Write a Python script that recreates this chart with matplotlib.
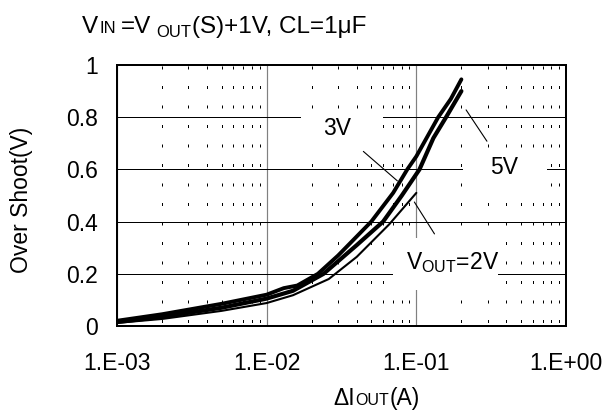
import numpy as np
import matplotlib
matplotlib.use("Agg")
import matplotlib.pyplot as plt
from matplotlib.ticker import LogLocator, NullFormatter
from matplotlib.patches import Rectangle

plt.rcParams['font.family'] = ['Liberation Sans', 'DejaVu Sans']
plt.rcParams['mathtext.fontset'] = 'custom'
plt.rcParams['mathtext.rm'] = 'Liberation Sans'
plt.rcParams['lines.scale_dashes'] = False

# ---- data ----
i_3v = [0.001, 0.002, 0.005, 0.01, 0.013, 0.016, 0.022, 0.03, 0.05, 0.07, 0.087, 0.1, 0.14, 0.17, 0.2]
v_3v = [0.02, 0.045, 0.085, 0.12, 0.145, 0.155, 0.20, 0.27, 0.40, 0.51, 0.60, 0.65, 0.80, 0.87, 0.945]

i_5v = [0.001, 0.002, 0.005, 0.01, 0.015, 0.024, 0.04, 0.06, 0.08, 0.105, 0.13, 0.158, 0.2]
v_5v = [0.015, 0.035, 0.07, 0.105, 0.135, 0.20, 0.31, 0.40, 0.50, 0.60, 0.72, 0.80, 0.90]

i_2v = [0.001, 0.002, 0.005, 0.01, 0.015, 0.026, 0.04, 0.066, 0.1]
v_2v = [0.012, 0.027, 0.058, 0.088, 0.118, 0.18, 0.265, 0.39, 0.51]

x_ticks = [1e-3, 1e-2, 1e-1, 1e0]
x_ticklabels = ["1.E-03", "1.E-02", "1.E-01", "1.E+00"]
y_ticks = [0, 0.2, 0.4, 0.6, 0.8, 1.0]
y_ticklabels = ["0", "0.2", "0.4", "0.6", "0.8", "1"]

FS = 16.5
SMALL = 11.5
W, H = 606, 412

fig = plt.figure(figsize=(W/100, H/100), dpi=100)
ax = fig.add_axes([117/W, 86/H, 449/W, 261/H])
ax.set_xscale('log')
ax.set_xlim(1e-3, 1)
ax.set_ylim(0, 1)

ax.set_xticks(x_ticks)
ax.set_xticklabels(x_ticklabels)
ax.xaxis.set_minor_locator(LogLocator(base=10, subs=np.arange(2, 10)))
ax.xaxis.set_minor_formatter(NullFormatter())
ax.set_yticks(y_ticks)
ax.set_yticklabels(y_ticklabels)
ax.tick_params(axis='both', which='both', length=0, labelsize=FS)
ax.tick_params(axis='x', pad=19)
ax.tick_params(axis='y', pad=14)

px = 0.72
ax.grid(True, which='minor', axis='x', color='black', linewidth=1.0*px,
        linestyle=(16*px, (3*px, 16.5*px)))
ax.grid(True, which='major', axis='x', color='#808080', linewidth=1.2*px)
ax.grid(True, which='major', axis='y', color='black', linewidth=1.0*px)
ax.set_axisbelow(True)
for s in ax.spines.values():
    s.set_linewidth(2*px)
    s.set_zorder(5)

# white masks behind labels
for (x0, y0, w, h) in [(0.410, 0.644, 0.182, 0.176),
                       (0.771, 0.521, 0.187, 0.153),
                       (0.615, 0.138, 0.234, 0.199)]:
    ax.add_patch(Rectangle((x0, y0), w, h, transform=ax.transAxes,
                           facecolor='white', edgecolor='none', zorder=1.5))

ax.plot(i_2v, v_2v, color='black', linewidth=1.5, zorder=3, solid_capstyle='round')
ax.plot(i_5v, v_5v, color='black', linewidth=3.0, zorder=3, solid_capstyle='round')
ax.plot(i_3v, v_3v, color='black', linewidth=2.8, zorder=3, solid_capstyle='round')

# labels with leader lines
ax.annotate("3V", xy=(0.0747, 0.556), xytext=(0.0297, 0.755),
            ha='center', va='center', fontsize=FS, zorder=4,
            arrowprops=dict(arrowstyle='-', color='black', lw=0.8,
                            shrinkA=9, shrinkB=0))
ax.annotate("5V", xy=(0.215, 0.828), xytext=(0.386, 0.609),
            ha='center', va='center', fontsize=FS, zorder=4,
            arrowprops=dict(arrowstyle='-', color='black', lw=0.8,
                            shrinkA=10, shrinkB=0))
ax.annotate(r"$\mathregular{V_{OUT}}$=2V", xy=(0.097, 0.475), xytext=(0.1738, 0.245),
            ha='center', va='center', fontsize=FS, zorder=4,
            arrowprops=dict(arrowstyle='-', color='black', lw=0.8,
                            shrinkA=11, shrinkB=0))

renderer = fig.canvas.get_renderer()


def rich_text(x_px, base_px, pieces):
    """pieces: (text, fontsize, baseline drop in px, gap after in px)"""
    x = x_px
    for txt, size, drop, gap in pieces:
        t = fig.text(x / W, 1 - (base_px + drop) / H, txt, fontsize=size,
                     ha='left', va='baseline')
        x += t.get_window_extent(renderer).width + gap


# title
rich_text(82, 33, [("V", 17.5, 0, 1), ("IN", 12, 0, 5), ("=V", 17.5, 0, 5),
                   ("OUT", 12, 4, 0.5), ("(S)+1V, CL=1μF", 17.5, 0, 0)])

# y label
fig.text(22/W, 1 - 200/H, "Over Shoot(V)", rotation=90, fontsize=FS,
         ha='center', va='center')

# x label
rich_text(333, 405, [("ΔI", FS, 0, 1), ("OUT", SMALL, 0, 0.5), ("(A)", FS, 0, 0)])

fig.savefig("out.png", dpi=100)
